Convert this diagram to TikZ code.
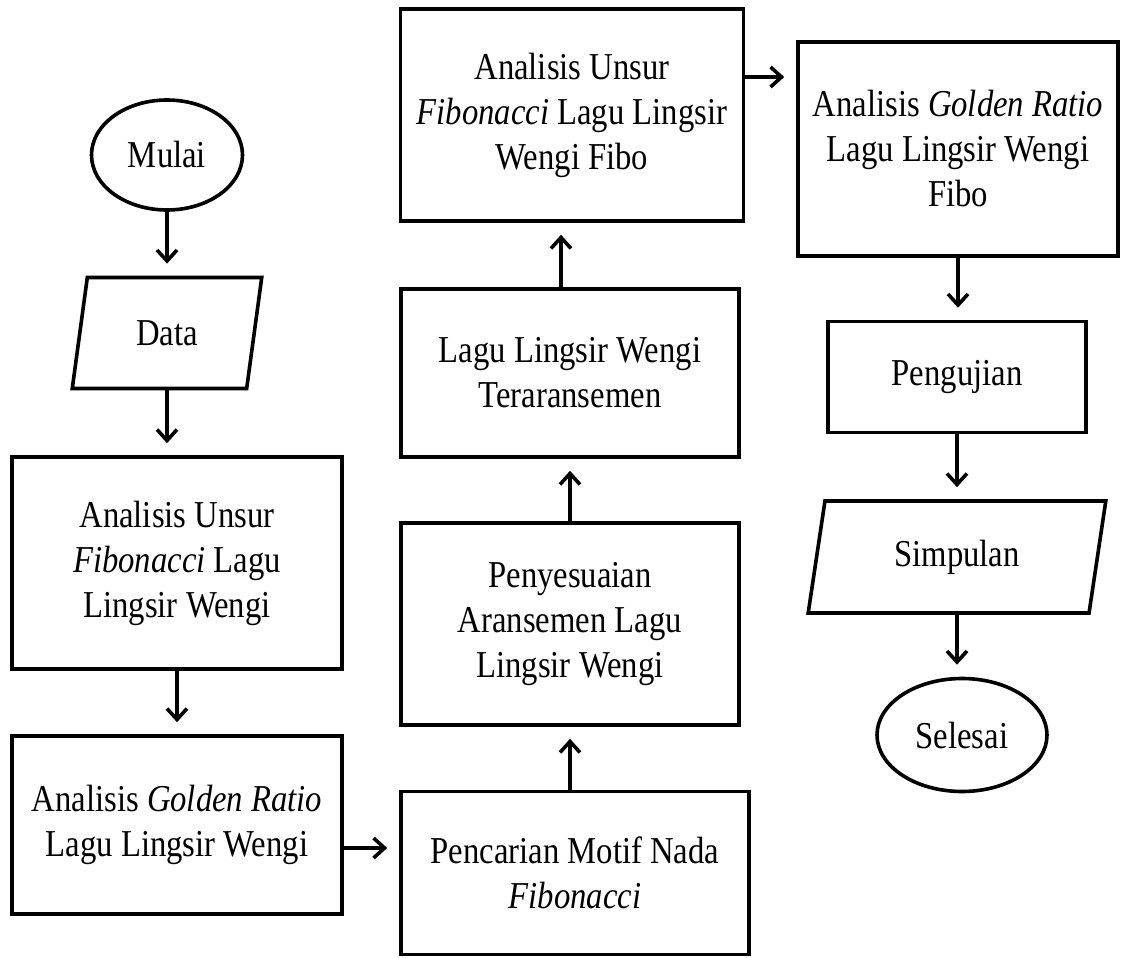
\documentclass[tikz,border=0pt]{standalone}
\usepackage{fontspec}
\setmainfont{Liberation Serif}[FakeStretch=0.86]
\usetikzlibrary{shapes.geometric, arrows.meta}

\begin{document}
\begin{tikzpicture}[x=0.5pt, y=-0.5pt,
  every node/.style={font=\fontsize{19}{22.5}\selectfont, align=center, line width=1.8pt, inner sep=0pt},
  terminal/.style={draw, ellipse},
  io/.style={draw, trapezium, trapezium left angle=77, trapezium right angle=103, trapezium stretches=true},
  process/.style={draw, rectangle},
  flow/.style={line width=1.8pt, -{Straight Barb[length=5.5pt, width=10pt]}, shorten >=6pt}
]

\useasboundingbox (0,0) rectangle (1121,958);

% Left column
\node [terminal, minimum width=75.5pt, minimum height=55pt] (mulai) at (167,155) {Mulai};
\node [io, minimum width=95pt, minimum height=55.5pt] (data) at (167,333) {Data};
\node [process, minimum width=165pt, minimum height=106pt] (unsur) at (177,563) {Analisis Unsur\\\textit{Fibonacci} Lagu\\Lingsir Wengi};
\node [process, minimum width=165pt, minimum height=89pt] (golden) at (177,825) {Analisis \textit{Golden Ratio}\\Lagu Lingsir Wengi};

% Middle column
\node [process, minimum width=174pt, minimum height=81.5pt] (motif) at (575,873) {Pencarian Motif Nada\\\textit{Fibonacci}};
\node [process, minimum width=169pt, minimum height=101pt] (sesuai) at (570,624) {Penyesuaian\\Aransemen Lagu\\Lingsir Wengi};
\node [process, minimum width=169pt, minimum height=84pt] (aransemen) at (570,373) {Lagu Lingsir Wengi\\Teraransemen};
\node [process, minimum width=171.5pt, minimum height=106pt] (unsurfibo) at (572,115) {Analisis Unsur\\\textit{Fibonacci} Lagu Lingsir\\Wengi Fibo};

% Right column
\node [process, minimum width=160pt, minimum height=107pt] (goldenfibo) at (958,149) {Analisis \textit{Golden Ratio}\\Lagu Lingsir Wengi\\Fibo};
\node [process, minimum width=129pt, minimum height=55.5pt] (uji) at (957,377) {Pengujian};
\node [io, minimum width=149.5pt, minimum height=56pt] (simpulan) at (957,557) {Simpulan};
\node [terminal, minimum width=85pt, minimum height=56.5pt] (selesai) at (962,735) {Selesai};

% Flow
\draw [flow] (mulai.south) -- (mulai.south |- data.north);
\draw [flow] (data.south) -- (data.south |- unsur.north);
\draw [flow] (unsur.south) -- (unsur.south |- golden.north);
\draw [flow] ([yshift=-11.5pt]golden.east) -- ([yshift=-11.5pt]golden.east -| motif.west);
\draw [flow] (sesuai.south |- motif.north) -- (sesuai.south);
\draw [flow] (sesuai.north) -- (sesuai.north |- aransemen.south);
\draw [flow] ([xshift=-4.5pt]aransemen.north) -- ([xshift=-4.5pt]aransemen.north |- unsurfibo.south);
\draw [flow] ([yshift=19pt]unsurfibo.east) -- ([yshift=19pt]unsurfibo.east -| goldenfibo.west);
\draw [flow] (goldenfibo.south) -- (goldenfibo.south |- uji.north);
\draw [flow] (uji.south) -- (uji.south |- simpulan.north);
\draw [flow] (simpulan.south) -- (simpulan.south |- selesai.north);

\end{tikzpicture}
\end{document}
